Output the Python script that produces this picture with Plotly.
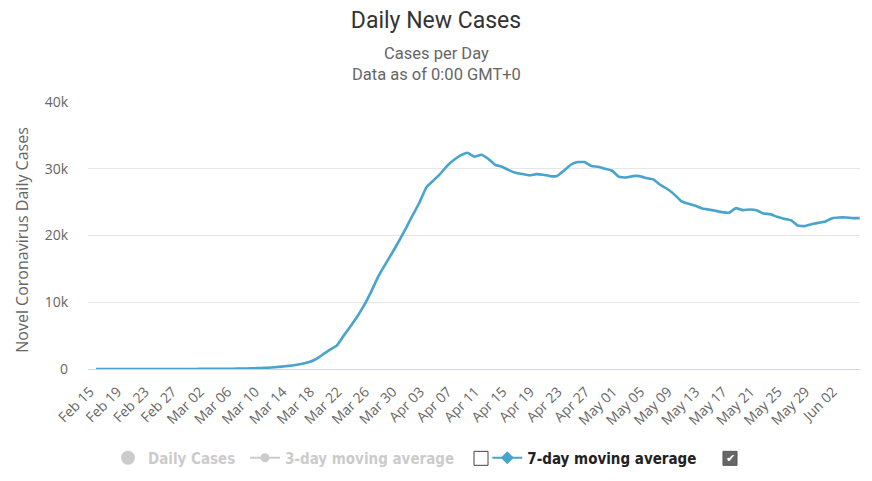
import pandas as pd
import plotly.graph_objects as go

start_date = "2020-02-15"
n_days = 112
dates = [d.strftime("%b %d") for d in pd.date_range(start_date, periods=n_days, freq="D")]

avg7 = [2, 2, 2, 2, 2, 3, 3, 3, 3, 4, 4, 5, 6, 7, 9, 12, 16, 21, 27, 35,
        48, 65, 85, 110, 145, 195, 270, 360, 470, 600, 780, 1050, 1500, 2200, 2900, 3500,
        5000, 6400, 7900, 9600, 11600, 13800, 15600, 17300, 19100, 21000, 23000,
        24900, 27200, 28200, 29200, 30400, 31300, 32000, 32400, 31800, 32100,
        31500, 30600, 30300, 29800, 29400, 29200, 29000, 29200, 29100, 28900, 28900,
        29700, 30600, 31000, 31000, 30400, 30300, 30000, 29700, 28800, 28700, 28900,
        28900, 28600, 28400, 27600, 27000, 26200, 25200, 24800, 24500, 24100, 23900,
        23700, 23500, 23400, 24100, 23800, 23900, 23800, 23300, 23200, 22800, 22500,
        22300, 21500, 21400, 21700, 21900, 22100, 22600, 22700, 22700, 22600, 22600]

tick_dates = dates[::4]
y_ticks = [0, 10000, 20000, 30000, 40000]
y_labels = ["0", "10k", "20k", "30k", "40k"]

line_color = "#47a4cb"
COND = "DejaVu Sans Condensed, DejaVu Sans, sans-serif"
SANS = "Open Sans, sans-serif"
NB = "\u00a0"

# the page body has an 8px margin: figure is drawn 8px right/down of the window origin
OFF = 8
W, H = 872 - 2 * OFF, 481 - 2 * OFF
PL, PR, PT, PB = 88, 860, 102, 369.5  # plot area in window pixels


def px_to_paper(xp, yp):
    return (xp - PL) / (PR - PL), (PB - yp) / (PB - PT)


fig = go.Figure()
fig.add_trace(go.Scatter(x=dates, y=avg7, mode="lines", showlegend=False,
                         line=dict(color=line_color, width=2.6, shape="spline", smoothing=0.3),
                         hoverinfo="x+y"))
# legend entries (series hidden in the original chart)
fig.add_trace(go.Scatter(x=[dates[0]], y=[None], mode="markers",
                         name="<span style='color:#999'>Daily Cases</span>" + NB,
                         marker=dict(symbol="circle", size=14, color="#999"),
                         visible="legendonly"))
fig.add_trace(go.Scatter(x=[dates[0]], y=[None], mode="lines+markers",
                         name="<span style='color:#999'>3-day moving average</span>" + NB * 6,
                         marker=dict(symbol="circle", size=9, color="#999"),
                         line=dict(color="#999", width=2), visible="legendonly"))
fig.add_trace(go.Scatter(x=[dates[0]], y=[None], mode="lines+markers",
                         name="<span style='color:#222'>7-day moving average</span>",
                         marker=dict(symbol="diamond", size=10, color=line_color),
                         line=dict(color=line_color, width=2)))

lx, _ = px_to_paper(108, 458)
sx, sy = px_to_paper(436, 64)
ax_x, ax_y = px_to_paper(22, 240)
fig.update_layout(
    width=W, height=H,
    paper_bgcolor="white", plot_bgcolor="white",
    margin=dict(l=PL - OFF, r=W - (PR - OFF), t=PT - OFF, b=H - (PB - OFF)),
    title=dict(text="Daily New Cases", x=sx, xref="paper", xanchor="center",
               y=1 - (20 - OFF) / H, yanchor="middle",
               font=dict(family="Roboto, sans-serif", size=23, color="#333")),
    annotations=[
        dict(text="Cases per Day<br>Data as of 0:00 GMT+0", xref="paper", yref="paper",
             x=sx, y=sy, xanchor="center", yanchor="middle",
             showarrow=False, font=dict(family="Roboto, sans-serif", size=16.5, color="#666")),
        dict(text="Novel Coronavirus Daily Cases", xref="paper", yref="paper",
             x=ax_x, y=ax_y, xanchor="center", yanchor="middle", textangle=-90,
             showarrow=False, font=dict(family=SANS, size=16, color="#666")),
    ],
    showlegend=True,
    legend=dict(orientation="h", x=lx, xanchor="left", yref="container",
                y=(H - (458 - OFF)) / H, yanchor="middle",
                font=dict(family=COND, size=15, color="#333", weight="bold"),
                itemclick=False, itemdoubleclick=False, bgcolor="rgba(0,0,0,0)"),
    hovermode="x",
)
fig.update_xaxes(type="category", range=[-1.16, 111.04], tickmode="array", tickvals=tick_dates,
                 ticktext=tick_dates, tickangle=-45, showgrid=False, zeroline=False,
                 showline=True, linecolor="#ccd6eb", linewidth=1, ticks="",
                 ticklabelstandoff=8, ticklabelshift=-6, automargin=False,
                 tickfont=dict(family=SANS, size=14, color="#666"))
fig.update_yaxes(range=[0, 40000], tickvals=y_ticks, ticktext=y_labels, showgrid=True,
                 gridcolor="#e6e6e6", gridwidth=1, zeroline=False, showline=False, ticks="",
                 ticklabelstandoff=19, automargin=False,
                 tickfont=dict(family=SANS, size=14, color="#666"))

# checkboxes in the legend
x0, y0 = px_to_paper(474, 452)
x1, y1 = px_to_paper(488, 466)
fig.add_shape(type="rect", xref="paper", yref="paper", x0=x0, y0=y1, x1=x1, y1=y0,
              line=dict(color="#444", width=1), fillcolor="white")
x0, y0 = px_to_paper(723, 452)
x1, y1 = px_to_paper(737, 466)
fig.add_shape(type="rect", xref="paper", yref="paper", x0=x0, y0=y1, x1=x1, y1=y0,
              line=dict(color="#555", width=1), fillcolor="#666")
cx, cy = px_to_paper(730, 459)
fig.add_annotation(text="\u2714", xref="paper", yref="paper", x=cx, y=cy, showarrow=False,
                   xanchor="center", yanchor="middle",
                   font=dict(family="DejaVu Sans", size=11, color="white"))

fig.write_html("out.html")
